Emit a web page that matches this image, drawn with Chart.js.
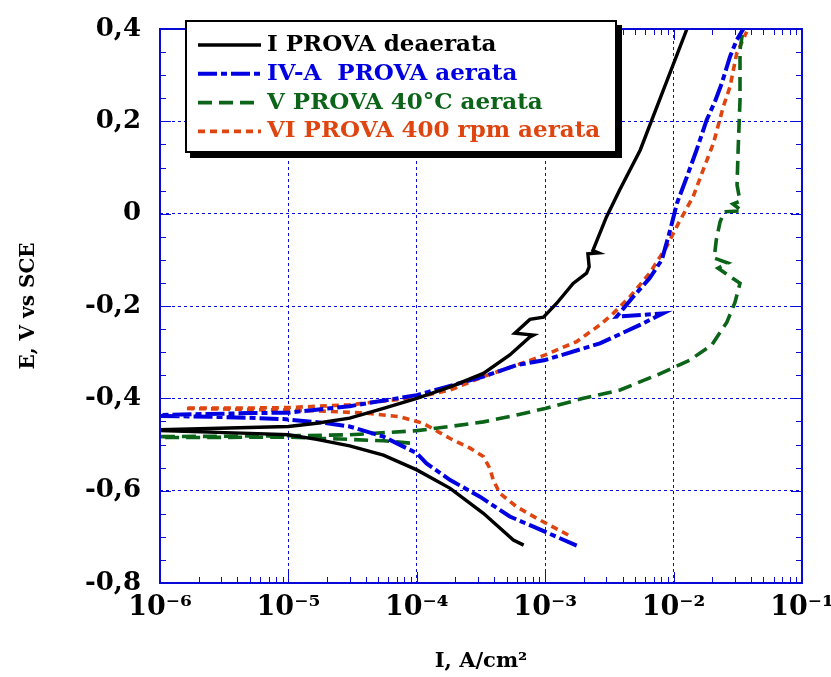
<!DOCTYPE html>
<html>
<head>
<meta charset="utf-8">
<title>Curve di polarizzazione</title>
<script src="https://cdn.jsdelivr.net/npm/chart.js@4.4.1/dist/chart.umd.min.js"></script>
<style>
  html, body { margin: 0; padding: 0; background: #fff; }
  #wrap { width: 831px; height: 677px; position: relative; }
</style>
</head>
<body>
<div id="wrap"><canvas id="polChart"></canvas></div>
<script>
// =============================================
// DATA (I in A/cm2, E in V vs SCE)
// =============================================

const seriesLabels = ['I PROVA deaerata', 'IV-A  PROVA aerata', 'V PROVA 40°C aerata', 'VI PROVA 400 rpm aerata'];

// I PROVA deaerata - cathodic end -> Ecorr -> anodic end
const provaI_I = [6.8e-4, 5.65e-4, 3.3e-4, 1.82e-4, 1.0e-4, 5.5e-5, 3.0e-5, 1.66e-5, 1.0e-5, 5.0e-6, 1.0e-6,
    1.0e-6, 1.0e-5, 1.66e-5, 3.0e-5, 5.5e-5, 1.0e-4, 1.82e-4, 3.3e-4, 5.3e-4, 7.6e-4, 8.1e-4, 5.8e-4, 7.6e-4,
    9.7e-4, 1.23e-3, 1.65e-3, 2.1e-3, 2.2e-3, 2.15e-3, 2.6e-3, 2.35e-3, 3.0e-3, 3.8e-3, 5.5e-3, 1.27e-2];
const provaI_E = [-0.718, -0.707, -0.649, -0.595, -0.555, -0.523, -0.503, -0.489, -0.479, -0.476, -0.470,
    -0.468, -0.461, -0.454, -0.443, -0.422, -0.400, -0.375, -0.346, -0.306, -0.267, -0.263, -0.259, -0.229,
    -0.224, -0.194, -0.151, -0.129, -0.115, -0.087, -0.085, -0.080, -0.007, 0.051, 0.138, 0.400];

// IV-A PROVA aerata
const provaIV_I = [1.76e-3, 8.1e-4, 5.3e-4, 3.1e-4, 1.82e-4, 1.19e-4, 1.0e-4, 5.5e-5, 3.0e-5, 1.87e-5, 9.1e-6, 5e-6, 2.45e-6, 1e-6,
    1e-6, 5e-6, 1e-5, 3e-5, 1e-4, 1.82e-4, 3.3e-4, 6.0e-4, 1e-3, 2.67e-3, 5.47e-3, 8.26e-3,
    3.6e-3, 4.85e-3, 6.5e-3, 8.1e-3, 9.1e-3, 9.7e-3, 1.06e-2, 1.27e-2, 1.51e-2, 1.81e-2, 2.1e-2, 2.37e-2, 2.75e-2, 3.1e-2, 3.49e-2];
const provaIV_E = [-0.719, -0.678, -0.656, -0.613, -0.577, -0.541, -0.519, -0.483, -0.461, -0.453, -0.445, -0.442, -0.440, -0.438,
    -0.436, -0.432, -0.431, -0.417, -0.393, -0.373, -0.353, -0.328, -0.317, -0.281, -0.241, -0.216,
    -0.223, -0.180, -0.140, -0.100, -0.050, -0.021, 0.022, 0.080, 0.138, 0.203, 0.243, 0.282, 0.340, 0.376, 0.400];

// V PROVA 40°C aerata
const provaV_I = [8.85e-5, 5.5e-5, 3e-5, 1e-5, 1e-6, 1e-6, 1e-5, 3e-5, 1e-4, 1.82e-4, 3.3e-4, 6e-4, 1e-3, 1.98e-3,
    3.83e-3, 7.8e-3, 1.34e-2, 1.99e-2, 2.6e-2, 3.0e-2, 3.29e-2, 2.22e-2, 2.65e-2, 2.07e-2, 2.15e-2, 2.3e-2,
    2.47e-2, 3.41e-2, 2.9e-2, 3.29e-2, 3.12e-2, 3.18e-2, 3.29e-2, 3.29e-2, 3.47e-2];
const provaV_E = [-0.497, -0.492, -0.489, -0.484, -0.485, -0.483, -0.481, -0.479, -0.470, -0.461, -0.451, -0.436, -0.422, -0.400,
    -0.382, -0.347, -0.317, -0.284, -0.235, -0.193, -0.151, -0.118, -0.107, -0.096, -0.057, -0.018,
    0.004, 0.006, 0.021, 0.027, 0.062, 0.138, 0.246, 0.355, 0.398];

// VI PROVA 400 rpm aerata
const provaVI_I = [1.51e-3, 8.6e-4, 6.0e-4, 4.44e-4, 3.94e-4, 3.71e-4, 3.3e-4, 2.6e-4, 1.82e-4, 1.12e-4, 7.4e-5, 4.07e-5, 1.66e-5, 5e-6, 1.57e-6,
    1.57e-6, 5e-6, 1e-5, 3e-5, 1e-4, 1.82e-4, 3.3e-4, 6e-4, 1e-3, 1.76e-3, 2.67e-3, 3.39e-3, 4.57e-3, 6.5e-3, 8.8e-3,
    1.09e-2, 1.42e-2, 1.7e-2, 2.04e-2, 2.44e-2, 2.75e-2, 3.1e-2, 3.71e-2];
const provaVI_E = [-0.696, -0.660, -0.635, -0.606, -0.577, -0.552, -0.526, -0.508, -0.487, -0.454, -0.440, -0.432, -0.427, -0.424, -0.422,
    -0.421, -0.421, -0.420, -0.414, -0.398, -0.382, -0.353, -0.328, -0.306, -0.277, -0.241, -0.216, -0.180, -0.129, -0.072,
    -0.021, 0.037, 0.095, 0.152, 0.232, 0.275, 0.347, 0.394];

// axis ticks
const xDecades = [1e-6, 1e-5, 1e-4, 1e-3, 1e-2, 1e-1];
const yTicks = [-0.8, -0.6, -0.4, -0.2, 0, 0.2, 0.4];

// =============================================
// STYLE
// =============================================
const axisBlue = '#0a0ad8';
const serif = "'DejaVu Serif', 'Liberation Serif', serif";

const toPoints = (xs, ys) => xs.map((v, i) => ({ x: v, y: ys[i] }));

const supMap = { '-': '\u207B', '0': '\u2070', '1': '\u00B9', '2': '\u00B2', '3': '\u00B3', '4': '\u2074',
    '5': '\u2075', '6': '\u2076', '7': '\u2077', '8': '\u2078', '9': '\u2079' };
const powerLabel = v => '10' + String(Math.round(Math.log10(v))).split('').map(c => supMap[c]).join('');

// minor tick positions (drawn inside the frame like the original plot)
const xMinor = [];
xDecades.slice(0, -1).forEach(d => { for (let m = 2; m <= 9; m++) xMinor.push(m * d); });
const yMinor = [];
for (let k = -15; k <= 7; k++) yMinor.push(k * 0.05);

// Frame + inward ticks
const frameTicks = {
    id: 'frameTicks',
    afterDatasetsDraw(chart) {
        const { ctx, chartArea: a, scales: { x, y } } = chart;
        ctx.save();
        ctx.strokeStyle = axisBlue;
        ctx.lineWidth = 1;
        ctx.beginPath();
        xMinor.forEach(v => {
            const px = Math.round(x.getPixelForValue(v)) + 0.5;
            ctx.moveTo(px, a.bottom); ctx.lineTo(px, a.bottom - 6);
            ctx.moveTo(px, a.top); ctx.lineTo(px, a.top + 6);
        });
        xDecades.forEach(v => {
            const px = Math.round(x.getPixelForValue(v)) + 0.5;
            ctx.moveTo(px, a.bottom); ctx.lineTo(px, a.bottom - 11);
            ctx.moveTo(px, a.top); ctx.lineTo(px, a.top + 11);
        });
        yMinor.forEach(v => {
            const py = Math.round(y.getPixelForValue(v)) + 0.5;
            const len = Math.abs(Math.round(v * 100) % 20) === 0 ? 11 : 6;
            ctx.moveTo(a.left, py); ctx.lineTo(a.left + len, py);
            ctx.moveTo(a.right, py); ctx.lineTo(a.right - len, py);
        });
        ctx.stroke();
        ctx.lineWidth = 2;
        ctx.strokeRect(a.left, a.top, a.right - a.left, a.bottom - a.top);
        ctx.restore();
    }
};

// Boxed legend with drop shadow, sitting inside the plot area
const boxedLegend = {
    id: 'boxedLegend',
    afterDraw(chart) {
        const ctx = chart.ctx;
        const left = 185, top = 20, w = 432, h = 133;
        ctx.save();
        ctx.fillStyle = '#000';
        ctx.fillRect(left + 5, top + 5, w, h);
        ctx.fillStyle = '#fff';
        ctx.fillRect(left, top, w, h);
        ctx.lineWidth = 2;
        ctx.strokeStyle = '#000';
        ctx.strokeRect(left + 1, top + 1, w - 2, h - 2);

        ctx.font = 'bold 23px ' + serif;
        ctx.textBaseline = 'middle';
        chart.data.datasets.forEach((ds, i) => {
            const ry = 45 + i * 28.8;
            ctx.beginPath();
            ctx.setLineDash(ds.borderDash || []);
            ctx.lineWidth = ds.borderWidth;
            ctx.strokeStyle = ds.borderColor;
            ctx.moveTo(198, ry);
            ctx.lineTo(261, ry);
            ctx.stroke();
            ctx.setLineDash([]);
            ctx.fillStyle = ds.borderColor;
            ctx.fillText(ds.label, 267, ry);
        });
        ctx.restore();
    }
};

// =============================================
// CHART
// =============================================
const ctxPol = document.getElementById('polChart').getContext('2d');
const polChart = new Chart(ctxPol, {
    type: 'scatter',
    data: {
        datasets: [
            { label: seriesLabels[0], data: toPoints(provaI_I, provaI_E), borderColor: '#000000', borderWidth: 3.4, borderDash: [] },
            { label: seriesLabels[1], data: toPoints(provaIV_I, provaIV_E), borderColor: '#0000e0', borderWidth: 4, borderDash: [19, 4, 6, 4] },
            { label: seriesLabels[2], data: toPoints(provaV_I, provaV_E), borderColor: '#0b6418', borderWidth: 3.6, borderDash: [14, 7] },
            { label: seriesLabels[3], data: toPoints(provaVI_I, provaVI_E), borderColor: '#de4510', borderWidth: 3.6, borderDash: [7, 5] }
        ].map(ds => ({ ...ds, showLine: true, pointRadius: 0, fill: false, tension: 0 }))
    },
    options: {
        responsive: true,
        maintainAspectRatio: false,
        animation: false,
        layout: { padding: { left: 0, right: 29, top: 29, bottom: 0 } },
        plugins: { legend: { display: false }, tooltip: { enabled: false } },
        scales: {
            x: {
                type: 'logarithmic',
                min: 1e-6,
                max: 1e-1,
                afterBuildTicks: scale => { scale.ticks = xDecades.map(v => ({ value: v })); },
                afterFit: scale => { scale.height = 94; scale.paddingLeft = 0; scale.paddingRight = 0; },
                grid: { color: axisBlue, lineWidth: 1, drawTicks: false },
                border: { display: false, dash: [3, 3] },
                ticks: {
                    autoSkip: false,
                    maxRotation: 0,
                    padding: 9,
                    color: '#000',
                    font: { family: serif, size: 27, weight: 'bold' },
                    callback: v => powerLabel(v)
                },
                title: {
                    display: true,
                    text: 'I, A/cm²',
                    color: '#000',
                    font: { family: serif, size: 21, weight: 'bold' },
                    padding: { top: 0, bottom: 3 }
                }
            },
            y: {
                min: -0.8,
                max: 0.4,
                afterBuildTicks: scale => { scale.ticks = yTicks.map(v => ({ value: v })); },
                afterFit: scale => { scale.width = 160; scale.paddingTop = 0; scale.paddingBottom = 0; },
                grid: { color: axisBlue, lineWidth: 1, drawTicks: false },
                border: { display: false, dash: [3, 3] },
                ticks: {
                    padding: 19,
                    color: '#000',
                    font: { family: serif, size: 26, weight: 'bold' },
                    callback: v => {
                        const r = Math.round(v * 10) / 10;
                        return r === 0 ? '0' : r.toFixed(1).replace('.', ',');
                    }
                },
                title: {
                    display: true,
                    text: 'E, V vs SCE',
                    color: '#000',
                    font: { family: serif, size: 20, weight: 'bold' },
                    padding: { top: 17, bottom: 0 }
                }
            }
        }
    },
    plugins: [frameTicks, boxedLegend]
});
</script>
</body>
</html>
